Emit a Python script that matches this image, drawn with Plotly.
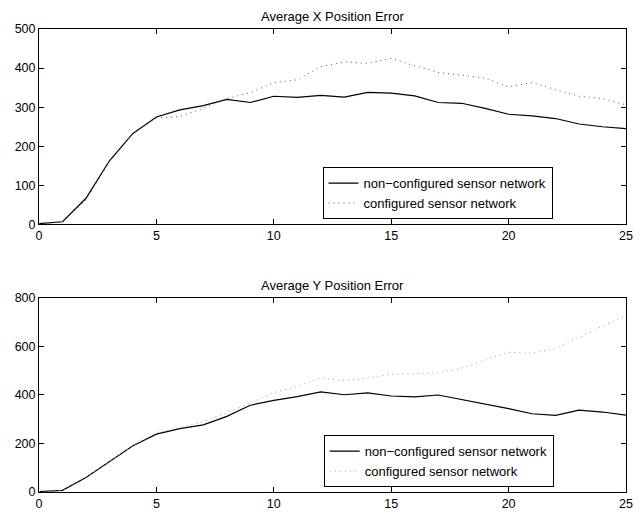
import plotly.graph_objects as go

steps = list(range(26))

x_nonconf = [2, 7, 67, 163, 233, 275, 293, 304, 320, 312, 328, 325, 330, 326, 338, 336,
             329, 312, 310, 297, 282, 278, 271, 257, 250, 245]
x_conf = [2, 7, 62, 160, 233, 272, 276, 297, 322, 337, 363, 370, 404, 416, 412, 425,
          406, 389, 382, 374, 352, 363, 345, 328, 322, 306]

y_nonconf = [2, 7, 60, 124, 190, 238, 261, 276, 311, 357, 377, 392, 412, 400, 408, 395,
             391, 399, 381, 362, 343, 322, 315, 337, 329, 316]
y_conf = [2, 7, 60, 124, 190, 245, 265, 290, 326, 366, 409, 434, 470, 457, 469, 485,
          489, 490, 510, 541, 575, 571, 589, 636, 683, 726]

series_names = ["non\u2212configured sensor network", "configured sensor network"]
titles = ["Average X Position Error", "Average Y Position Error"]

FONT = "Liberation Sans, Arial, Helvetica, sans-serif"
DOT = "1px,4px"

fig = go.Figure()
fig.add_trace(go.Scatter(x=steps, y=x_nonconf, mode="lines", name=series_names[0],
                         line=dict(color="black", width=1.2), xaxis="x", yaxis="y", legend="legend"))
fig.add_trace(go.Scatter(x=steps, y=x_conf, mode="lines", name=series_names[1],
                         line=dict(color="#555555", width=1, dash=DOT), xaxis="x", yaxis="y", legend="legend"))
fig.add_trace(go.Scatter(x=steps, y=y_nonconf, mode="lines", name=series_names[0],
                         line=dict(color="black", width=1.2), xaxis="x2", yaxis="y2", legend="legend2"))
fig.add_trace(go.Scatter(x=steps, y=y_conf, mode="lines", name=series_names[1],
                         line=dict(color="#999999", width=1, dash=DOT), xaxis="x2", yaxis="y2", legend="legend2"))

axis_common = dict(showgrid=False, zeroline=False, showline=True, linecolor="black", linewidth=1,
                   mirror="ticks", ticks="inside", ticklen=5, tickcolor="black",
                   tickfont=dict(family=FONT, size=12.5, color="black"))

legend_common = dict(bgcolor="white", bordercolor="black", borderwidth=1,
                     font=dict(family=FONT, size=13, color="black"),
                     xanchor="left", yanchor="top", tracegroupgap=0, itemwidth=30)

fig.update_layout(
    width=642, height=520,
    margin=dict(l=39, r=9, t=29, b=22),
    paper_bgcolor="white", plot_bgcolor="white",
    showlegend=True,
    xaxis=dict(domain=[0, 1], range=[0, 25], dtick=5, anchor="y", **axis_common),
    yaxis=dict(domain=[0.5778, 1], range=[0, 500], dtick=100, anchor="x", **axis_common),
    xaxis2=dict(domain=[0, 1], range=[0, 25], dtick=5, anchor="y2", **axis_common),
    yaxis2=dict(domain=[0, 0.42], range=[0, 800], dtick=200, anchor="x2", **axis_common),
    legend=dict(x=0.483, y=0.7015, **legend_common),
    legend2=dict(x=0.485, y=0.1226, **legend_common),
    annotations=[
        dict(text=titles[0], x=0.5, y=1, xref="paper", yref="paper", xanchor="center", yanchor="bottom",
             yshift=3, showarrow=False, font=dict(family=FONT, size=13, color="black")),
        dict(text=titles[1], x=0.5, y=0.42, xref="paper", yref="paper", xanchor="center", yanchor="bottom",
             yshift=3, showarrow=False, font=dict(family=FONT, size=13, color="black")),
    ],
)

fig.write_html("out.html")
